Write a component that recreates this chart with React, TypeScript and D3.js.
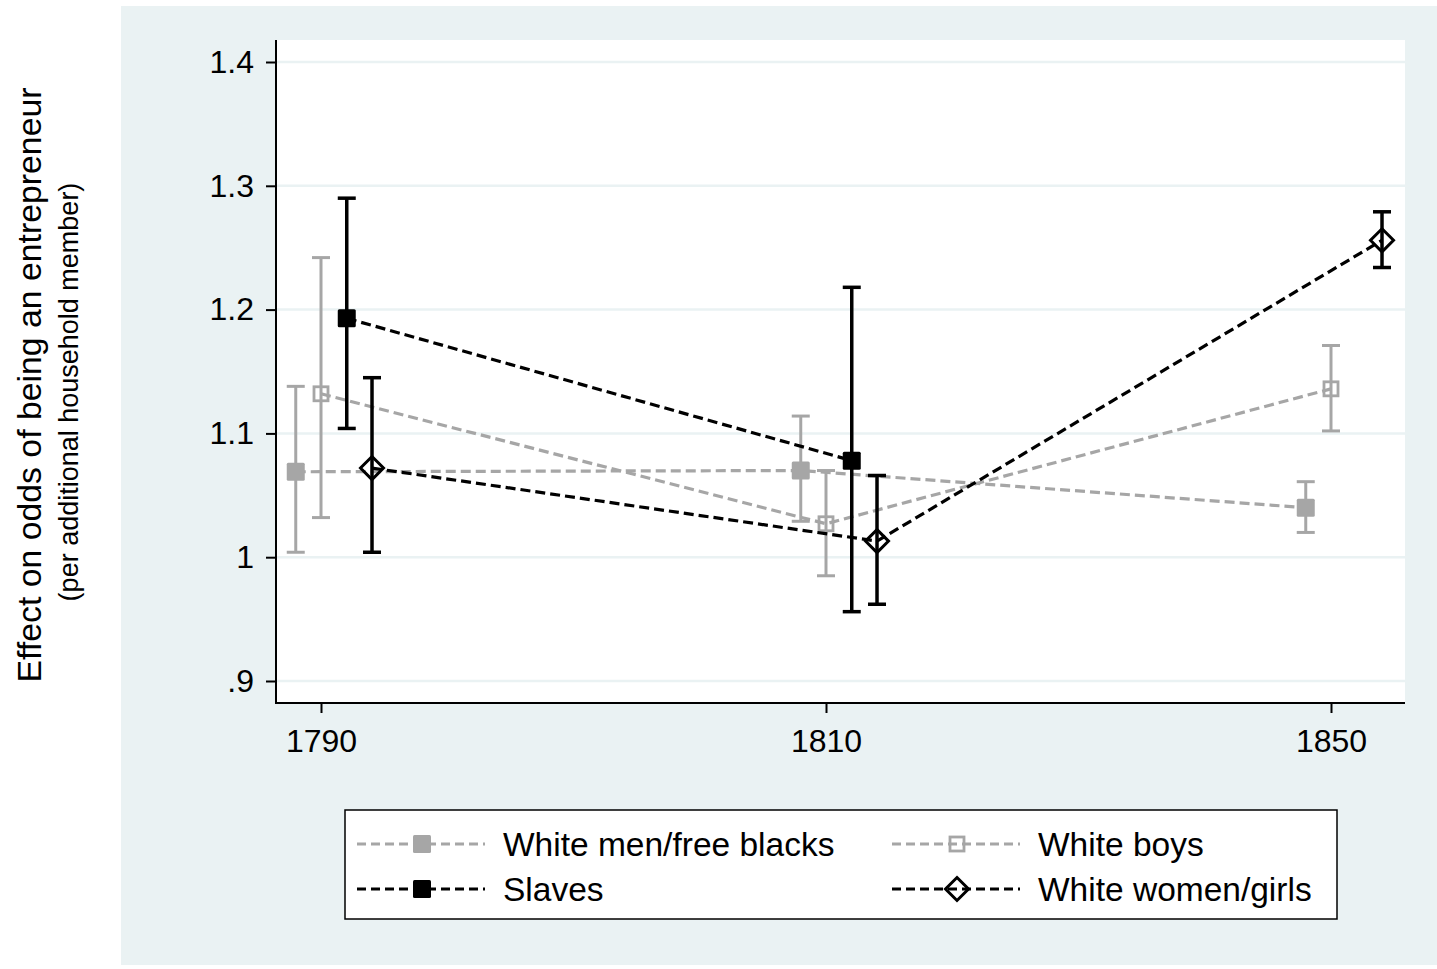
import { useEffect, useRef } from 'react';
import * as d3 from 'd3';

// census years (categorical x axis)
const years = ['1790', '1810', '1850'];
const yTicks = [0.9, 1.0, 1.1, 1.2, 1.3, 1.4];
const yTickLabels = ['.9', '1', '1.1', '1.2', '1.3', '1.4'];

// point estimates and 95% CI bounds, per series
const menEst = [1.069, 1.07, 1.04];
const menLo = [1.004, 1.029, 1.02];
const menHi = [1.138, 1.114, 1.061];

const boysEst = [1.132, 1.027, 1.136];
const boysLo = [1.032, 0.985, 1.102];
const boysHi = [1.242, 1.07, 1.171];

const slavesEst = [1.193, 1.078, null];
const slavesLo = [1.104, 0.956, null];
const slavesHi = [1.29, 1.218, null];

const womenEst = [1.072, 1.013, 1.256];
const womenLo = [1.004, 0.962, 1.234];
const womenHi = [1.145, 1.066, 1.279];

const seriesNames = ['White men/free blacks', 'White boys', 'Slaves', 'White women/girls'];

const FONT = '"Liberation Sans", Arial, Helvetica, sans-serif';
const GRAY = '#a6a6a6';
const BG = '#eaf2f3';

const App = () => {
  const svgRef = useRef(null);

  useEffect(() => {
    const svg = d3.select(svgRef.current);
    svg.selectAll('*').remove();

    const width = 1437;
    const height = 969;
    const plot = { left: 276, right: 1405, top: 40, bottom: 703 };

    svg.attr('width', width).attr('height', height);

    // outer graph region
    svg.append('rect')
      .attr('x', 121).attr('y', 6)
      .attr('width', width - 121).attr('height', 959)
      .attr('fill', BG);

    svg.append('rect')
      .attr('x', plot.left).attr('y', plot.top)
      .attr('width', plot.right - plot.left).attr('height', plot.bottom - plot.top)
      .attr('fill', '#fff');

    const x = d3.scalePoint().domain(years).range([321, 1331]);
    const y = d3.scaleLinear().domain([0.9, 1.4]).range([681, 62]);

    // gridlines
    svg.append('g')
      .selectAll('line')
      .data(yTicks)
      .enter()
      .append('line')
      .attr('x1', plot.left).attr('x2', plot.right)
      .attr('y1', d => y(d)).attr('y2', d => y(d))
      .attr('stroke', BG)
      .attr('stroke-width', 2.5);

    // axes
    const yAxis = d3.axisLeft(y)
      .tickValues(yTicks)
      .tickFormat((d, i) => yTickLabels[i])
      .tickSize(10)
      .tickSizeOuter(0)
      .tickPadding(12);

    const gy = svg.append('g')
      .attr('transform', `translate(${plot.left},0)`)
      .call(yAxis);

    const xAxis = d3.axisBottom(x)
      .tickSize(10)
      .tickSizeOuter(0)
      .tickPadding(16);

    const gx = svg.append('g')
      .attr('transform', `translate(0,${plot.bottom})`)
      .call(xAxis);

    [gy, gx].forEach(g => {
      g.select('.domain').remove();
      g.selectAll('.tick line').attr('stroke', '#000').attr('stroke-width', 2);
      g.selectAll('.tick text')
        .attr('fill', '#000')
        .style('font-family', FONT)
        .style('font-size', '32px');
    });

    // axis lines
    svg.append('line')
      .attr('x1', plot.left).attr('x2', plot.left)
      .attr('y1', plot.top).attr('y2', plot.bottom + 1)
      .attr('stroke', '#000').attr('stroke-width', 2);
    svg.append('line')
      .attr('x1', plot.left - 1).attr('x2', plot.right)
      .attr('y1', plot.bottom).attr('y2', plot.bottom)
      .attr('stroke', '#000').attr('stroke-width', 2);

    // y title
    svg.append('text')
      .attr('transform', `translate(41,385) rotate(-90)`)
      .attr('text-anchor', 'middle')
      .style('font-family', FONT)
      .style('font-size', '33.8px')
      .text('Effect on odds of being an entrepreneur');
    svg.append('text')
      .attr('transform', `translate(78,392) rotate(-90)`)
      .attr('text-anchor', 'middle')
      .style('font-family', FONT)
      .style('font-size', '27px')
      .text('(per additional household member)');

    const step = x.step();
    const series = [
      { name: seriesNames[0], est: menEst, lo: menLo, hi: menHi, color: GRAY, marker: 'square', filled: true, off: -0.05, bw: 3 },
      { name: seriesNames[1], est: boysEst, lo: boysLo, hi: boysHi, color: GRAY, marker: 'square', filled: false, off: 0, bw: 3 },
      { name: seriesNames[2], est: slavesEst, lo: slavesLo, hi: slavesHi, color: '#000', marker: 'square', filled: true, off: 0.051, bw: 3.5 },
      { name: seriesNames[3], est: womenEst, lo: womenLo, hi: womenHi, color: '#000', marker: 'diamond', filled: false, off: 0.101, bw: 3.5 },
    ];

    const drawMarker = (g, s, cx, cy) => {
      if (s.marker === 'diamond') {
        const r = 11.5;
        g.append('path')
          .attr('d', `M${cx},${cy - r}L${cx + r},${cy}L${cx},${cy + r}L${cx - r},${cy}Z`)
          .attr('fill', 'none')
          .attr('stroke', s.color)
          .attr('stroke-width', 3);
      } else if (s.filled) {
        g.append('rect')
          .attr('x', cx - 9).attr('y', cy - 9)
          .attr('width', 18).attr('height', 18)
          .attr('rx', 1.5)
          .attr('fill', s.color);
      } else {
        g.append('rect')
          .attr('x', cx - 7).attr('y', cy - 7)
          .attr('width', 14).attr('height', 14)
          .attr('fill', 'none')
          .attr('stroke', s.color)
          .attr('stroke-width', 2.8);
      }
    };

    const gSeries = svg.append('g');

    series.forEach(s => {
      const pts = years
        .map((yr, i) => ({ yr, i, est: s.est[i], lo: s.lo[i], hi: s.hi[i] }))
        .filter(p => p.est != null);
      const px = p => x(p.yr) + s.off * step;

      // connecting dashed line
      const line = d3.line().x(px).y(p => y(p.est));
      gSeries.append('path')
        .attr('d', line(pts))
        .attr('fill', 'none')
        .attr('stroke', s.color)
        .attr('stroke-width', 3.2)
        .attr('stroke-dasharray', '10,5');

      // error bars with caps
      pts.forEach(p => {
        const cx = px(p);
        gSeries.append('line')
          .attr('x1', cx).attr('x2', cx)
          .attr('y1', y(p.lo)).attr('y2', y(p.hi))
          .attr('stroke', s.color).attr('stroke-width', s.bw);
        [p.lo, p.hi].forEach(v => {
          gSeries.append('line')
            .attr('x1', cx - 9).attr('x2', cx + 9)
            .attr('y1', y(v)).attr('y2', y(v))
            .attr('stroke', s.color).attr('stroke-width', s.bw);
        });
        drawMarker(gSeries, s, cx, y(p.est));
      });
    });

    // legend
    const lg = svg.append('g');
    lg.append('rect')
      .attr('x', 345).attr('y', 810)
      .attr('width', 992).attr('height', 109)
      .attr('fill', '#fff')
      .attr('stroke', '#000')
      .attr('stroke-width', 1.5);

    const cols = [357, 892];
    const rows = [844, 889];
    series.forEach((s, i) => {
      const col = i % 2;
      const row = Math.floor(i / 2);
      const lx = cols[col];
      const ly = rows[row];
      lg.append('line')
        .attr('x1', lx).attr('x2', lx + 128)
        .attr('y1', ly).attr('y2', ly)
        .attr('stroke', s.color)
        .attr('stroke-width', 3)
        .attr('stroke-dasharray', '9,5');
      drawMarker(lg, s, lx + 65, ly);
      lg.append('text')
        .attr('x', lx + 146)
        .attr('y', ly + 12)
        .style('font-family', FONT)
        .style('font-size', '33.5px')
        .attr('fill', '#000')
        .text(s.name);
    });
  }, []);

  return (
    <svg ref={svgRef} style={{ position: 'absolute', left: 0, top: 0, background: '#fff' }}></svg>
  );
};

export default App;
